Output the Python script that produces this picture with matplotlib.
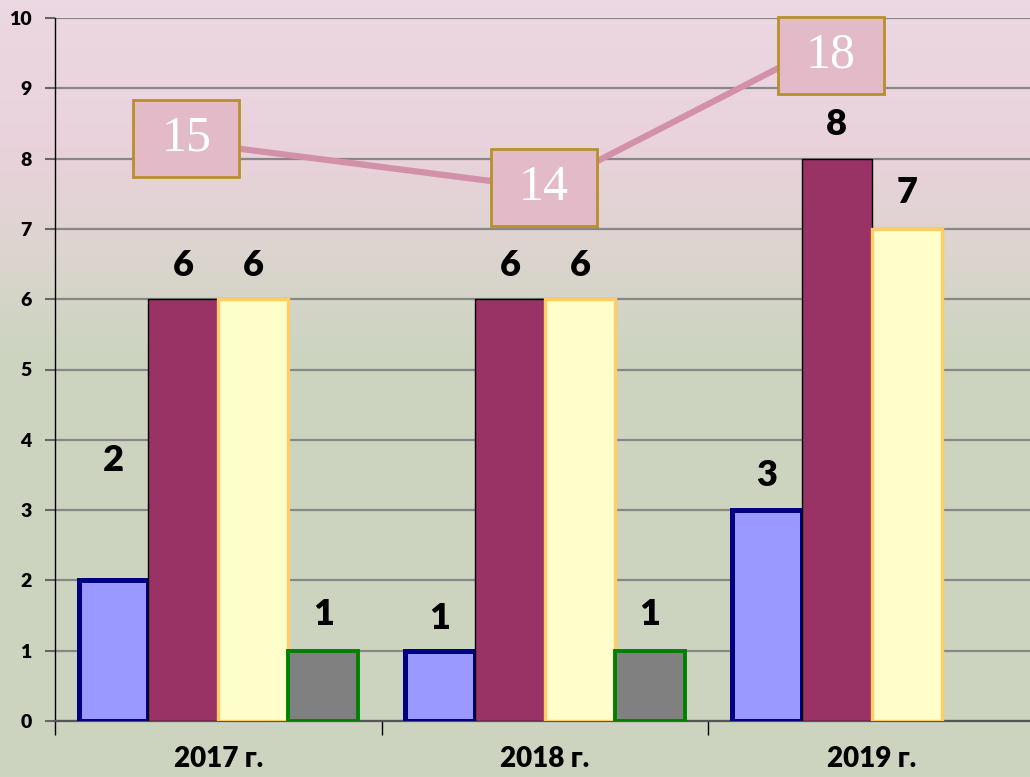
import numpy as np
import matplotlib
matplotlib.use("Agg")
import matplotlib.pyplot as plt
from matplotlib.path import Path

# ---------------- data ----------------
years = ["2017 г.", "2018 г.", "2019 г."]
series_a = [2, 1, 3]          # blue
series_b = [6, 6, 8]          # maroon
series_c = [6, 6, 7]          # light yellow
series_d = [1, 1, np.nan]     # gray
line_values = [15, 14, 18]

# ---------------- styles ----------------
bar_styles = [
    dict(fc="#9999FF", ec="#000080", lw=3.6),
    dict(fc="#993366", ec="#000000", lw=1.0),
    dict(fc="#FFFFCC", ec="#FFCC66", lw=2.4),
    dict(fc="#808080", ec="#008000", lw=2.8),
]
label_offsets = [[120, 32, 35], [34, 34, 34], [34, 34, 36], [36, 36, 36]]  # pixels above bar top
line_label_shift = [(-32, 8), (-1, 0), (-41, -35)]  # pixels from point to box centre

W, H = 1030, 777
fig = plt.figure(figsize=(W / 100, H / 100), dpi=100)

# background gradient
bg = fig.add_axes([0, 0, 1, 1], zorder=-10)
stops_y = [0.0, 0.19, 0.32, 0.45, 1.0]
stops_c = np.array([(236, 216, 226), (233, 210, 219), (221, 212, 207),
                    (205, 212, 193), (204, 213, 192)]) / 255.0
yy = np.linspace(0, 1, H)
grad = np.stack([np.interp(yy, stops_y, stops_c[:, k]) for k in range(3)], axis=1)
img = np.repeat(grad[:, None, :], 4, axis=1)
bg.imshow(img, aspect="auto", extent=[0, 1, 1, 0])
bg.set_axis_off()

pos = [55 / W, 56 / H, 980 / W, 703 / H]
ax = fig.add_axes(pos)
ax.patch.set_visible(False)

fam = ["Lato", "DejaVu Sans"]
x = np.arange(len(years))
bw = 0.214
all_series = [series_a, series_b, series_c, series_d]
for i, (vals, st) in enumerate(zip(all_series, bar_styles)):
    xs = x + (i - 1.5) * bw
    v = np.array(vals, dtype=float)
    ax.bar(xs, v, width=bw, color=st["fc"], edgecolor=st["ec"], linewidth=st["lw"], zorder=3)
    for xi, vi, off in zip(xs, v, label_offsets[i]):
        if np.isnan(vi):
            continue
        ax.annotate(f"{int(vi)}", (xi, vi), xytext=(0, off), textcoords="offset pixels",
                    ha="center", va="center", fontsize=26, fontweight="heavy",
                    family=fam, color="black", zorder=5)

ax.set_xlim(-0.5, 2.5)
ax.set_ylim(0, 10)
ax.set_yticks(range(0, 11))
ax.yaxis.grid(True, color="#878787", linewidth=1.6, zorder=0)
ax.set_axisbelow(True)
ax.set_xticks(x)
ax.set_xticklabels(years)
ax.set_xticks([-0.5, 0.5, 1.5, 2.5], minor=True)
ax.tick_params(axis="x", which="major", length=0, pad=18)
ax.tick_params(axis="x", which="minor", length=10, width=1, color="black", direction="out")
ax.tick_params(axis="y", length=7, width=1.5, color="#666666", pad=10)
for lab in ax.get_xticklabels():
    lab.set_fontsize(20); lab.set_fontweight("heavy"); lab.set_family(fam)
for lab in ax.get_yticklabels():
    lab.set_fontsize(14); lab.set_fontweight("heavy"); lab.set_family(fam)
for s in ["top", "right"]:
    ax.spines[s].set_visible(False)
ax.spines["left"].set_color("black")
ax.spines["left"].set_linewidth(1)
ax.spines["bottom"].set_color("#555555")
ax.spines["bottom"].set_linewidth(1.6)

# secondary line
ax2 = ax.twinx()
ax2.set_position(pos)
ax2.set_ylim(1.3, 18.05)
ax2.set_axis_off()
ax2.plot(x, line_values, color="#D291A8", linewidth=4.5, solid_capstyle="butt", zorder=2)


def fixed_box(x0, y0, width, height, mutation_size):
    cx, cy = x0 + width / 2, y0 + height / 2
    bw_, bh_ = 106, 77
    verts = [(cx - bw_ / 2, cy - bh_ / 2), (cx + bw_ / 2, cy - bh_ / 2),
             (cx + bw_ / 2, cy + bh_ / 2), (cx - bw_ / 2, cy + bh_ / 2),
             (cx - bw_ / 2, cy - bh_ / 2)]
    return Path(verts, [Path.MOVETO, Path.LINETO, Path.LINETO, Path.LINETO, Path.CLOSEPOLY])


for xi, v, (dx, dy) in zip(x, line_values, line_label_shift):
    ax2.annotate(f"{v}", (xi, v), xytext=(dx, dy), textcoords="offset pixels",
                 ha="center", va="center", fontsize=36, color="white",
                 family=["Liberation Serif", "DejaVu Serif"],
                 bbox=dict(boxstyle=fixed_box, fc="#E3BAC8", ec="#B8902A", lw=2),
                 zorder=10, annotation_clip=False)

fig.savefig("out.png", dpi=100)
